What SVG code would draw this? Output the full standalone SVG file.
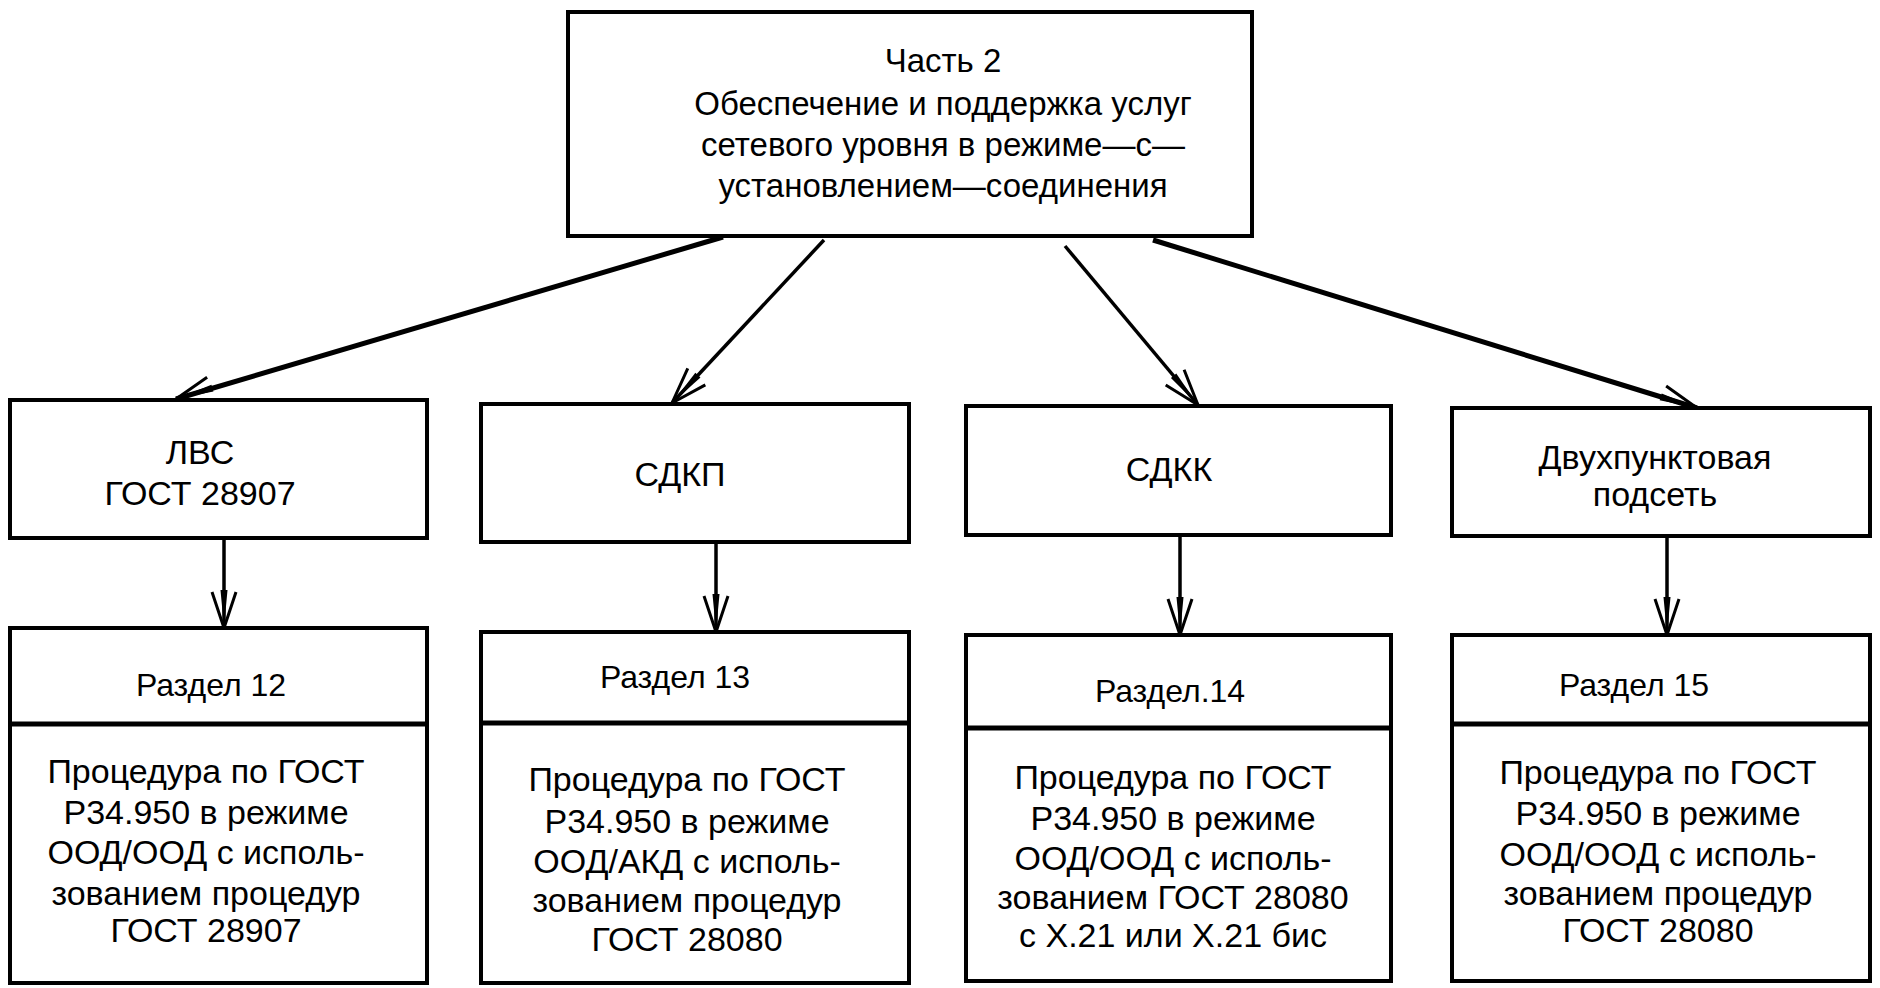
<svg xmlns="http://www.w3.org/2000/svg" width="1880" height="988" viewBox="0 0 1880 988">
<defs>
<style>
.box{fill:#fff;stroke:#000;stroke-width:4}
.div{stroke:#000;stroke-width:5}
.t{font-family:"Liberation Sans",Arial,sans-serif;font-size:34px;fill:#000;text-anchor:middle;dominant-baseline:central}
.h{font-size:33px}
.s{font-size:32px}
.c{fill:none;stroke:#000;stroke-width:3.5;marker-end:url(#ah)}
.thick{stroke-width:5}
</style>
<marker id="ah" markerUnits="userSpaceOnUse" markerWidth="44" markerHeight="30" viewBox="-40 -15 44 30" refX="0" refY="0" orient="auto" overflow="visible">
<path d="M0,0 L-38,-3.5 L-38,3.5 Z" fill="#000"/>
<path d="M0,0 L-36,-12 M0,0 L-36,12" fill="none" stroke="#000" stroke-width="3"/>
</marker>
</defs>
<rect width="1880" height="988" fill="#fff"/>
<g id="connectors">
<line class="c thick" x1="723" y1="237" x2="176" y2="399"/>
<line class="c" x1="824" y1="240" x2="672" y2="403"/>
<line class="c" x1="1065" y1="246" x2="1198" y2="405"/>
<line class="c thick" x1="1153" y1="240" x2="1697" y2="408"/>
<line class="c" x1="224" y1="538" x2="224" y2="628"/>
<line class="c" x1="716" y1="542" x2="716" y2="632"/>
<line class="c" x1="1180" y1="535" x2="1180" y2="635"/>
<line class="c" x1="1667" y1="536" x2="1667" y2="635"/>
</g>
<g id="top">
<rect class="box" x="568" y="12" width="684" height="224"/>
<text class="t h" x="943" y="60">Часть 2</text>
<text class="t h" x="943" y="103">Обеспечение и поддержка услуг</text>
<text class="t h" x="943" y="144">сетевого уровня в режиме—с—</text>
<text class="t h" x="943" y="185">установлением—соединения</text>
</g>
<g id="lvs">
<rect class="box" x="10" y="400" width="417" height="138"/>
<text class="t" x="200" y="452">ЛВС</text>
<text class="t" x="200" y="493">ГОСТ 28907</text>
</g>
<g id="sdkp">
<rect class="box" x="481" y="404" width="428" height="138"/>
<text class="t" x="680" y="474">СДКП</text>
</g>
<g id="sdkk">
<rect class="box" x="966" y="406" width="425" height="129"/>
<text class="t" x="1169" y="469">СДКК</text>
</g>
<g id="dvuh">
<rect class="box" x="1452" y="408" width="418" height="128"/>
<text class="t" x="1655" y="457">Двухпунктовая</text>
<text class="t" x="1655" y="494">подсеть</text>
</g>
<g id="r12">
<rect class="box" x="10" y="628" width="417" height="355"/>
<line class="div" x1="10" y1="724" x2="427" y2="724"/>
<text class="t s" x="211" y="685">Раздел 12</text>
<text class="t" x="206" y="771">Процедура по ГОСТ</text>
<text class="t" x="206" y="812">Р34.950 в режиме</text>
<text class="t" x="206" y="852">ООД/ООД с исполь-</text>
<text class="t" x="206" y="893">зованием процедур</text>
<text class="t" x="206" y="930">ГОСТ 28907</text>
</g>
<g id="r13">
<rect class="box" x="481" y="632" width="428" height="351"/>
<line class="div" x1="481" y1="723" x2="909" y2="723"/>
<text class="t s" x="675" y="677">Раздел 13</text>
<text class="t" x="687" y="779">Процедура по ГОСТ</text>
<text class="t" x="687" y="821">Р34.950 в режиме</text>
<text class="t" x="687" y="861">ООД/АКД с исполь-</text>
<text class="t" x="687" y="900">зованием процедур</text>
<text class="t" x="687" y="939">ГОСТ 28080</text>
</g>
<g id="r14">
<rect class="box" x="966" y="635" width="425" height="346"/>
<line class="div" x1="966" y1="728" x2="1391" y2="728"/>
<text class="t s" x="1170" y="691">Раздел.14</text>
<text class="t" x="1173" y="777">Процедура по ГОСТ</text>
<text class="t" x="1173" y="818">Р34.950 в режиме</text>
<text class="t" x="1173" y="858">ООД/ООД с исполь-</text>
<text class="t" x="1173" y="897">зованием ГОСТ 28080</text>
<text class="t" x="1173" y="935">с Х.21 или Х.21 бис</text>
</g>
<g id="r15">
<rect class="box" x="1452" y="635" width="418" height="346"/>
<line class="div" x1="1452" y1="724" x2="1870" y2="724"/>
<text class="t s" x="1634" y="685">Раздел 15</text>
<text class="t" x="1658" y="772">Процедура по ГОСТ</text>
<text class="t" x="1658" y="813">Р34.950 в режиме</text>
<text class="t" x="1658" y="854">ООД/ООД с исполь-</text>
<text class="t" x="1658" y="893">зованием процедур</text>
<text class="t" x="1658" y="930">ГОСТ 28080</text>
</g>
</svg>
